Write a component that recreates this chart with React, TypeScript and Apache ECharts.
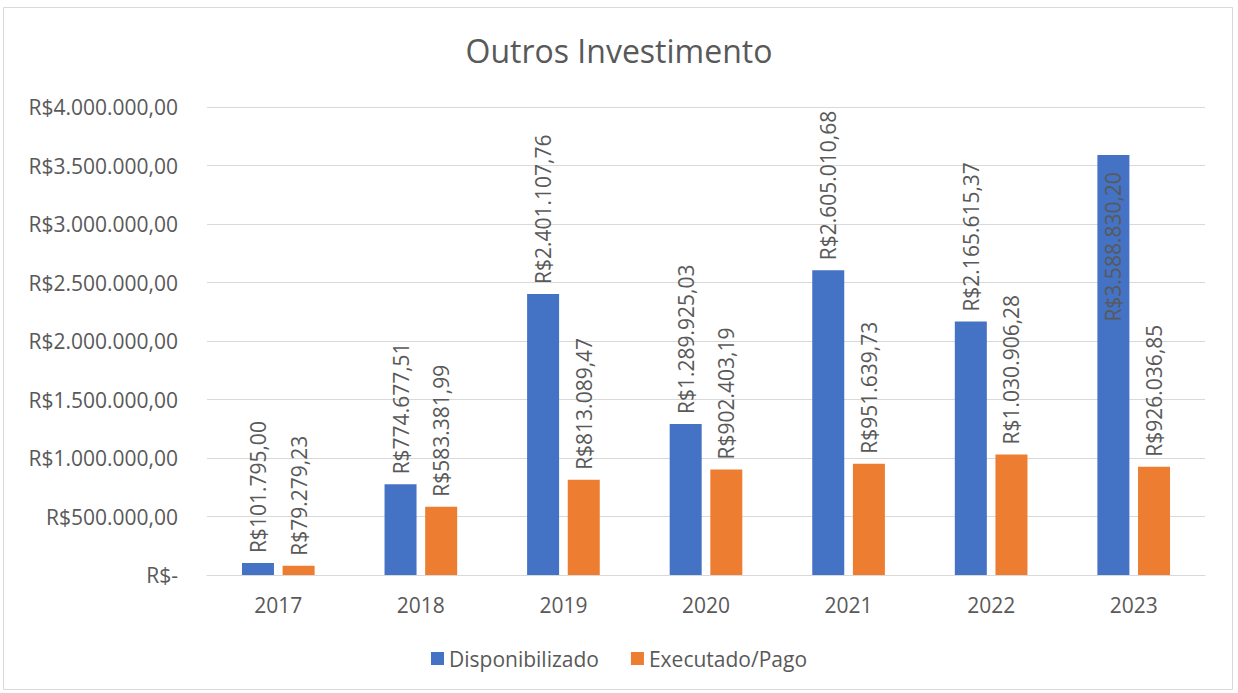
import React, { useEffect, useRef } from "react";
import * as echarts from "echarts";

const categories = ["2017", "2018", "2019", "2020", "2021", "2022", "2023"];
const disponibilizado = [101795.0, 774677.51, 2401107.76, 1289925.03, 2605010.68, 2165615.37, 3588830.2];
const executado = [79279.23, 583381.99, 813089.47, 902403.19, 951639.73, 1030906.28, 926036.85];
const seriesNames = ["Disponibilizado", "Executado/Pago"];
const titleText = "Outros Investimento";

const FONT = "'Open Sans', sans-serif";
const TEXT = "#595959";
const FS = 21;

function brl(v: number): string {
  if (v === 0) return "R$-";
  const fixed = v.toFixed(2);
  const [intPart, dec] = fixed.split(".");
  const withDots = intPart.replace(/\B(?=(\d{3})+(?!\d))/g, ".");
  return "R$" + withDots + "," + dec;
}

export default function App() {
  const ref = useRef<HTMLDivElement>(null);
  useEffect(() => {
    if (!ref.current) return;
    const chart = echarts.init(ref.current, undefined, { renderer: "svg" });
    const labelBase = {
      show: true,
      position: "top" as const,
      rotate: 90,
      align: "left" as const,
      verticalAlign: "middle" as const,
      distance: 10,
      color: TEXT,
      fontFamily: FONT,
      fontSize: FS,
      formatter: (p: any) => brl(p.value),
    };
    const dispData = disponibilizado.map((v, i) =>
      i === disponibilizado.length - 1
        ? { value: v, label: { position: "insideTop", align: "right", distance: 17 } }
        : v
    );
    chart.setOption({
      animation: false,
      textStyle: { fontFamily: FONT },
      title: {
        text: titleText,
        left: "center",
        top: 29,
        textStyle: { color: TEXT, fontFamily: FONT, fontSize: 32, fontWeight: "normal" },
      },
      legend: {
        data: seriesNames,
        bottom: 19,
        left: "center",
        itemWidth: 13,
        itemHeight: 13,
        itemGap: 32,
        icon: "rect",
        textStyle: { color: TEXT, fontFamily: FONT, fontSize: FS },
      },
      grid: { left: 207, right: 33, top: 107, bottom: 118, containLabel: false },
      xAxis: {
        type: "category",
        data: categories,
        axisLine: { show: true, lineStyle: { color: "#D9D9D9", width: 1 } },
        axisTick: { show: false },
        axisLabel: { color: TEXT, fontFamily: FONT, fontSize: FS, margin: 19 },
      },
      yAxis: {
        type: "value",
        min: 0,
        max: 4000000,
        interval: 500000,
        axisLine: { show: false },
        axisTick: { show: false },
        splitLine: { lineStyle: { color: "#D9D9D9", width: 1 } },
        axisLabel: {
          color: TEXT,
          fontFamily: FONT,
          fontSize: FS,
          margin: 29,
          formatter: (v: number) => brl(v),
        },
      },
      graphic: [
        {
          type: "rect",
          shape: { x: 3.5, y: 7.5, width: 1229, height: 682 },
          style: { fill: "none", stroke: "#D9D9D9", lineWidth: 1 },
          silent: true,
        },
      ],
      series: [
        {
          name: seriesNames[0],
          type: "bar",
          data: dispData,
          barWidth: 32,
          barGap: "27%",
          itemStyle: { color: "#4472C4" },
          label: labelBase,
        },
        {
          name: seriesNames[1],
          type: "bar",
          data: executado,
          barWidth: 32,
          barGap: "27%",
          itemStyle: { color: "#ED7D31" },
          label: labelBase,
        },
      ],
    });
    return () => chart.dispose();
  }, []);
  return (
    <div
      ref={ref}
      style={{ position: "fixed", left: 0, top: 0, width: 1238, height: 693, background: "#fff" }}
    />
  );
}
